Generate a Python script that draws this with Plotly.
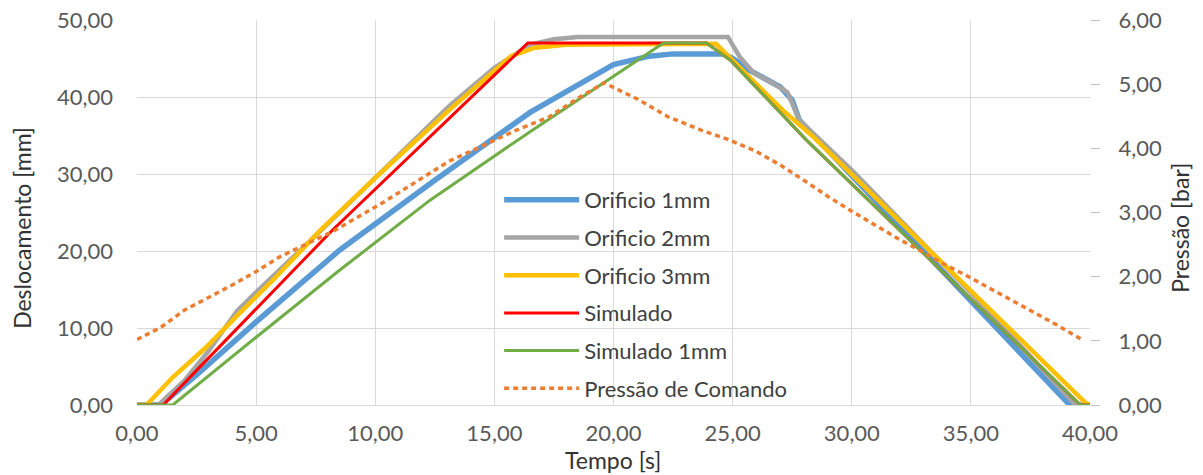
import plotly.graph_objects as go

# ---- data ----
t_orif1 = [0, 1.0, 2.5, 5.0, 8.5, 12.5, 16.5, 20.0, 21.5, 22.5, 24.6, 25.0, 25.7, 27.0, 27.5, 27.8, 30.0, 35.0, 39.15, 40.0]
d_orif1 = [0, 0, 3.9, 10.8, 20.1, 29.2, 38.0, 44.2, 45.3, 45.6, 45.6, 45.0, 43.5, 41.3, 39.6, 37.0, 29.8, 13.6, 0, 0]

t_orif2 = [0, 0.9, 2.0, 3.0, 4.2, 5.05, 7.5, 10.0, 13.1, 15.0, 16.5, 17.5, 18.5, 24.8, 25.3, 25.9, 26.7, 27.3, 27.8, 30.0, 35.0, 39.4, 40.0]
d_orif2 = [0, 0, 3.2, 7.0, 12.2, 14.8, 22.0, 29.5, 38.8, 43.8, 46.8, 47.5, 47.8, 47.8, 45.2, 43.1, 41.8, 40.6, 37.0, 30.5, 14.6, 0, 0]

t_orif3 = [0, 0.4, 1.5, 2.9, 4.3, 5.7, 7.7, 10.0, 13.1, 15.7, 16.7, 18.0, 24.3, 27.1, 28.4, 33.0, 39.8, 40.0]
d_orif3 = [0, 0, 3.6, 7.5, 11.9, 16.2, 22.7, 29.5, 38.3, 45.3, 46.4, 46.8, 46.9, 38.3, 34.8, 20.9, 0.3, 0]

t_sim = [0, 1.1, 2.5, 8.2, 16.4, 23.9, 24.9, 28.1, 39.6, 40.0]
d_sim = [0, 0, 4.5, 22.7, 47.0, 47.0, 44.8, 34.4, 0, 0]

t_sim1 = [0, 1.5, 5.0, 8.5, 12.3, 16.5, 22.1, 23.9, 24.9, 28.1, 39.6, 40.0]
d_sim1 = [0, 0, 8.8, 17.5, 26.6, 35.5, 47.0, 47.0, 44.8, 34.4, 0, 0]

t_press = [0, 1.0, 2.0, 3.0, 4.0, 5.0, 6.0, 7.0, 8.2, 10.3, 13.1, 15.9, 17.3, 18.5, 19.6, 21.0, 22.3, 23.7, 24.8,
           26.0, 27.0, 28.0, 29.0, 30.0, 31.0, 32.0, 33.0, 33.8, 34.8, 36.2, 37.6, 38.6, 39.65]
p_press = [1.02, 1.21, 1.48, 1.67, 1.87, 2.08, 2.31, 2.49, 2.70, 3.15, 3.80, 4.28, 4.49, 4.78, 5.02, 4.77, 4.49, 4.28, 4.14,
           3.95, 3.74, 3.50, 3.25, 3.02, 2.80, 2.58, 2.38, 2.21, 2.02, 1.74, 1.45, 1.25, 1.02]

names = ["Orificio 1mm", "Orificio 2mm", "Orificio 3mm", "Simulado", "Simulado 1mm", "Pressão de Comando"]
colors = ["#5B9BD5", "#A5A5A5", "#FFC000", "#FF0000", "#70AD47", "#ED7D31"]
widths = [5.5, 4.5, 4.5, 3, 3, 3.5]

x_ticks = [0, 5, 10, 15, 20, 25, 30, 35, 40]
y_ticks = [0, 10, 20, 30, 40, 50]
y2_ticks = [0, 1, 2, 3, 4, 5, 6]

x_title = "Tempo [s]"
y_title = "Deslocamento [mm]"
y2_title = "Pressão [bar]"

series = [(t_orif1, d_orif1), (t_orif2, d_orif2), (t_orif3, d_orif3), (t_sim, d_sim), (t_sim1, d_sim1)]

fig = go.Figure()
for i, (tx, dy) in enumerate(series):
    fig.add_trace(go.Scatter(x=tx, y=dy, mode="lines", name=names[i], legendgroup=names[i],
                             line=dict(color=colors[i], width=widths[i])))
fig.add_trace(go.Scatter(x=t_press, y=p_press, mode="lines", name=names[5], legendgroup=names[5],
                         yaxis="y2", line=dict(color=colors[5], width=widths[5], dash="5px,4px")))

font_main = "Lato, 'Open Sans', sans-serif"
title_font = dict(family=font_main, size=23, color="#333333")
fig.update_layout(
    width=1203, height=475,
    margin=dict(l=137, r=113, t=20, b=70, autoexpand=False),
    paper_bgcolor="white", plot_bgcolor="white",
    separators=",.",
    font=dict(family=font_main, size=22, color="#595959"),
    showlegend=True,
    legend=dict(x=0.380, y=0.587, xanchor="left", yanchor="top", bgcolor="rgba(0,0,0,0)",
                font=dict(size=22, color="#404040"), tracegroupgap=6.1, itemwidth=75),
    xaxis=dict(range=[0, 40], tickvals=x_ticks, tickformat=".2f", showgrid=True, gridcolor="#D9D9D9",
               gridwidth=1, zeroline=False, showline=True, linecolor="#D9D9D9", ticks="",
               ticklabelstandoff=9, automargin=False, ticklabeloverflow="allow"),
    yaxis=dict(range=[0, 50], tickvals=y_ticks, tickformat=".2f", showgrid=True, gridcolor="#D9D9D9",
               gridwidth=1, zeroline=False, showline=False, ticks="", ticklabelstandoff=23, automargin=False,
               ticklabeloverflow="allow"),
    yaxis2=dict(range=[0, 6], tickvals=y2_ticks, tickformat=".2f", overlaying="y", side="right",
                showgrid=False, zeroline=False, showline=False, ticks="outside", ticklen=9,
                tickcolor="#BFBFBF", ticklabelstandoff=14, automargin=False, ticklabeloverflow="allow"),
    annotations=[
        dict(text=x_title, xref="paper", yref="paper", x=0.4995, y=-0.1429, xanchor="center", yanchor="middle",
             showarrow=False, font=title_font),
        dict(text=y_title, xref="paper", yref="paper", x=-0.1207, y=0.46, xanchor="center", yanchor="middle",
             textangle=-90, showarrow=False, font=title_font),
        dict(text=y2_title, xref="paper", yref="paper", x=1.0944, y=0.46, xanchor="center", yanchor="middle",
             textangle=-90, showarrow=False, font=title_font),
    ],
)

fig.write_html("out.html", config={"displayModeBar": False},
               post_script="document.body.style.margin='0';document.body.style.overflow='hidden';")
